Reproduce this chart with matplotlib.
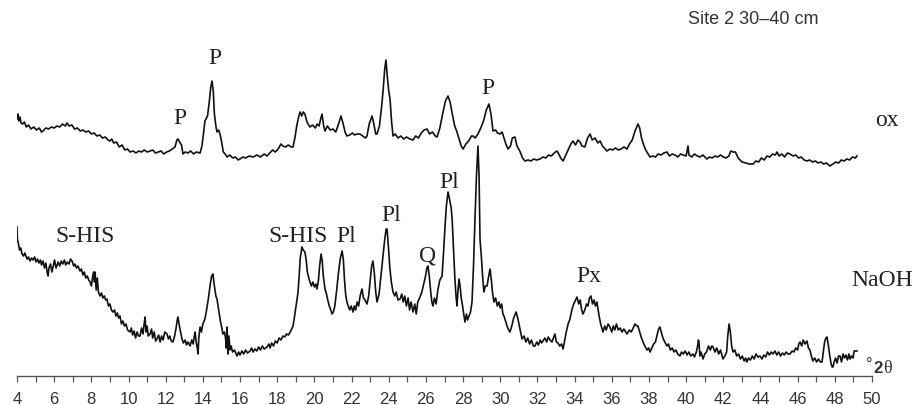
import matplotlib
matplotlib.use("Agg")
import matplotlib.pyplot as plt
from matplotlib.ticker import MultipleLocator

# XRD patterns, Site 2, 30-40 cm (intensity in arbitrary units, traces offset)
ox_2theta = [
    4.00, 4.05, 4.10, 4.16, 4.22, 4.30, 4.40, 4.50, 4.62, 4.75, 4.90, 5.05, 5.20, 5.32, 5.40,
    5.55, 5.70, 5.85, 6.00, 6.15, 6.30, 6.45, 6.60, 6.69, 6.80, 6.95, 7.10, 7.25, 7.40, 7.55,
    7.70, 7.85, 8.00, 8.15, 8.30, 8.45, 8.60, 8.75, 8.90, 9.00, 9.10, 9.20, 9.35, 9.50, 9.65,
    9.80, 9.95, 10.08, 10.25, 10.40, 10.55, 10.70, 10.85, 11.00, 11.16, 11.30, 11.45, 11.60,
    11.75, 11.90, 12.05, 12.20, 12.35, 12.50, 12.60, 12.66, 12.75, 12.85, 12.93, 13.05, 13.20,
    13.35, 13.50, 13.65, 13.85, 13.95, 14.05, 14.11, 14.25, 14.35, 14.42, 14.49, 14.56, 14.62,
    14.70, 14.76, 14.85, 14.92, 15.00, 15.10, 15.20, 15.30, 15.45, 15.60, 15.75, 15.90, 16.00,
    16.15, 16.30, 16.50, 16.70, 16.90, 17.10, 17.30, 17.45, 17.60, 17.75, 17.90, 18.05, 18.20,
    18.31, 18.45, 18.60, 18.75, 18.85, 18.95, 19.05, 19.15, 19.23, 19.32, 19.40, 19.49, 19.60,
    19.76, 19.90, 20.05, 20.15, 20.25, 20.35, 20.41, 20.50, 20.57, 20.70, 20.85, 21.00, 21.15,
    21.30, 21.43, 21.55, 21.65, 21.75, 21.90, 22.05, 22.15, 22.30, 22.45, 22.60, 22.75, 22.83,
    22.95, 23.10, 23.20, 23.30, 23.37, 23.50, 23.62, 23.69, 23.78, 23.85, 23.92, 24.00, 24.07,
    24.15, 24.23, 24.35, 24.50, 24.65, 24.80, 24.95, 25.14, 25.30, 25.45, 25.60, 25.75, 25.90,
    26.06, 26.20, 26.35, 26.50, 26.60, 26.75, 26.90, 27.05, 27.19, 27.30, 27.42, 27.55, 27.67,
    27.80, 27.90, 28.00, 28.15, 28.30, 28.45, 28.53, 28.65, 28.80, 28.95, 29.10, 29.25, 29.39,
    29.50, 29.61, 29.75, 29.85, 29.99, 30.10, 30.20, 30.30, 30.42, 30.55, 30.65, 30.79, 30.90,
    31.05, 31.20, 31.33, 31.50, 31.65, 31.80, 31.95, 32.14, 32.30, 32.45, 32.60, 32.75, 32.90,
    33.05, 33.15, 33.25, 33.38, 33.50, 33.65, 33.80, 33.91, 34.05, 34.18, 34.29, 34.40, 34.55,
    34.70, 34.83, 34.95, 35.10, 35.25, 35.37, 35.50, 35.60, 35.74, 35.90, 36.05, 36.20, 36.35,
    36.50, 36.65, 36.82, 36.95, 37.10, 37.25, 37.41, 37.50, 37.60, 37.70, 37.80, 37.89, 38.06,
    38.20, 38.35, 38.50, 38.65, 38.80, 38.97, 39.10, 39.25, 39.40, 39.55, 39.70, 39.85, 40.00,
    40.10, 40.15, 40.30, 40.45, 40.60, 40.75, 40.90, 41.12, 41.25, 41.40, 41.55, 41.70, 41.85,
    42.00, 42.15, 42.30, 42.40, 42.52, 42.65, 42.80, 43.01, 43.20, 43.40, 43.60, 43.75, 43.90,
    44.05, 44.20, 44.35, 44.50, 44.65, 44.80, 44.89, 45.00, 45.15, 45.30, 45.45, 45.59, 45.75,
    45.90, 46.05, 46.20, 46.35, 46.50, 46.65, 46.80, 46.95, 47.10, 47.25, 47.40, 47.55, 47.74,
    47.90, 48.05, 48.20, 48.35, 48.50, 48.65, 48.80, 48.95, 49.10, 49.19,
]
ox_counts = [
    257, 262, 255, 259, 253, 252, 254, 249, 251, 247, 249, 246, 248, 244, 245,
    248, 247, 249, 248, 250, 249, 252, 250, 253, 250, 251, 247, 248, 245, 246,
    244, 245, 242, 243, 240, 241, 238, 239, 236, 235, 237, 233, 234, 229, 231,
    226, 227, 224, 225, 223, 225, 224, 226, 224, 225, 226, 223, 224,
    225, 222, 224, 225, 227, 229, 236, 237, 234, 231, 222, 224, 223,
    225, 222, 224, 223, 230, 245, 255, 260, 275, 288, 295, 285, 262,
    250, 244, 246, 242, 235, 224, 222, 219, 221, 218, 219, 216, 217,
    219, 218, 220, 219, 221, 219, 222, 220, 223, 226, 224, 227, 232,
    230, 229, 231, 229, 229, 238, 250, 259, 264, 260, 264, 262, 254,
    249, 251, 248, 252, 250, 258, 262, 250, 245, 250, 246, 247, 244,
    252, 260, 252, 244, 240, 241, 243, 241, 242, 242, 240, 238, 240,
    252, 260, 252, 242, 242, 250, 270, 284, 306, 316, 300, 285, 277,
    255, 240, 242, 238, 240, 237, 239, 237, 236, 240, 238, 243, 246,
    247, 242, 244, 240, 239, 248, 262, 275, 280, 274, 262, 250, 244,
    236, 230, 227, 232, 235, 240, 240, 238, 242, 248, 255, 266, 272,
    262, 245, 246, 243, 242, 244, 238, 232, 227, 230, 238, 239, 230,
    225, 218, 215, 216, 215, 217, 216, 217, 219, 218, 221, 220, 223,
    225, 222, 218, 215, 220, 226, 232, 235, 231, 236, 234, 230, 229,
    238, 242, 236, 238, 233, 235, 230, 228, 225, 227, 226, 228, 226,
    227, 229, 227, 232, 236, 245, 252, 248, 238, 232, 227, 224, 219,
    220, 219, 222, 221, 223, 224, 220, 222, 221, 219, 222, 221, 220,
    230, 221, 219, 222, 220, 219, 221, 217, 219, 218, 220, 219, 221,
    219, 218, 220, 225, 224, 224, 218, 214, 213, 212, 212, 215, 214,
    218, 216, 220, 219, 222, 221, 224, 220, 222, 219, 223, 222, 220,
    221, 218, 219, 216, 215, 216, 214, 215, 213, 214, 212, 213, 210,
    212, 214, 213, 216, 215, 217, 216, 219, 218, 220,
]

naoh_2theta = [
    4.00, 4.02, 4.08, 4.14, 4.20, 4.27, 4.35, 4.42, 4.54, 4.62, 4.70, 4.78, 4.86, 4.95, 5.02,
    5.10, 5.18, 5.26, 5.32, 5.40, 5.48, 5.55, 5.62, 5.67, 5.72, 5.80, 5.88, 5.95, 6.02, 6.10,
    6.16, 6.21, 6.30, 6.38, 6.46, 6.55, 6.62, 6.70, 6.80, 6.88, 6.96, 7.05, 7.12, 7.20, 7.28,
    7.39, 7.46, 7.55, 7.62, 7.70, 7.78, 7.86, 7.93, 8.00, 8.06, 8.12, 8.17, 8.20, 8.26, 8.32,
    8.38, 8.47, 8.55, 8.62, 8.70, 8.77, 8.84, 8.92, 9.00, 9.08, 9.16, 9.25, 9.32, 9.40, 9.47,
    9.54, 9.62, 9.70, 9.78, 9.86, 9.95, 10.08, 10.15, 10.22, 10.30, 10.38, 10.46, 10.54, 10.62,
    10.70, 10.78, 10.84, 10.89, 10.94, 11.00, 11.06, 11.16, 11.24, 11.30, 11.38, 11.46, 11.53,
    11.62, 11.70, 11.78, 11.86, 11.95, 12.07, 12.15, 12.22, 12.30, 12.39, 12.48, 12.56, 12.62,
    12.66, 12.72, 12.80, 12.88, 12.95, 13.05, 13.12, 13.20, 13.31, 13.40, 13.48, 13.54, 13.58,
    13.64, 13.70, 13.74, 13.78, 13.85, 13.92, 14.00, 14.11, 14.20, 14.30, 14.40, 14.47, 14.54,
    14.62, 14.70, 14.76, 14.85, 14.95, 15.02, 15.08, 15.16, 15.22, 15.26, 15.30, 15.35, 15.40,
    15.46, 15.52, 15.60, 15.70, 15.84, 15.92, 16.00, 16.10, 16.20, 16.30, 16.40, 16.54, 16.62,
    16.70, 16.80, 16.90, 17.00, 17.10, 17.20, 17.30, 17.45, 17.55, 17.62, 17.70, 17.80, 17.90,
    18.00, 18.10, 18.20, 18.31, 18.40, 18.50, 18.60, 18.70, 18.78, 18.85, 18.92, 19.00, 19.06,
    19.12, 19.18, 19.24, 19.33, 19.40, 19.49, 19.56, 19.62, 19.70, 19.76, 19.84, 19.92, 20.00,
    20.08, 20.14, 20.22, 20.28, 20.36, 20.42, 20.48, 20.57, 20.65, 20.72, 20.80, 20.88, 20.95,
    21.02, 21.10, 21.20, 21.30, 21.40, 21.49, 21.56, 21.62, 21.68, 21.75, 21.82, 21.90, 21.98,
    22.08, 22.15, 22.22, 22.30, 22.38, 22.46, 22.56, 22.64, 22.72, 22.83, 22.92, 23.00, 23.08,
    23.15, 23.22, 23.30, 23.37, 23.48, 23.58, 23.68, 23.78, 23.86, 23.91, 23.98, 24.06, 24.14,
    24.23, 24.32, 24.40, 24.50, 24.61, 24.70, 24.78, 24.86, 24.95, 25.04, 25.12, 25.20, 25.31,
    25.40, 25.48, 25.56, 25.68, 25.78, 25.88, 25.98, 26.05, 26.11, 26.18, 26.26, 26.32, 26.38,
    26.46, 26.55, 26.64, 26.75, 26.87, 26.95, 27.03, 27.10, 27.19, 27.28, 27.36, 27.41, 27.48,
    27.56, 27.62, 27.67, 27.72, 27.78, 27.84, 27.90, 27.94, 28.02, 28.10, 28.18, 28.24, 28.32,
    28.40, 28.48, 28.56, 28.64, 28.72, 28.80, 28.86, 28.91, 28.98, 29.05, 29.12, 29.20, 29.29,
    29.36, 29.45, 29.52, 29.58, 29.66, 29.75, 29.84, 29.93, 30.00, 30.08, 30.14, 30.20, 30.30,
    30.40, 30.52, 30.62, 30.72, 30.85, 30.94, 31.05, 31.17, 31.28, 31.38, 31.48, 31.58, 31.68,
    31.78, 31.87, 31.96, 32.05, 32.15, 32.22, 32.30, 32.40, 32.50, 32.58, 32.68, 32.78, 32.86,
    32.94, 33.02, 33.10, 33.20, 33.30, 33.38, 33.46, 33.55, 33.65, 33.75, 33.85, 33.95, 34.05,
    34.13, 34.22, 34.30, 34.38, 34.45, 34.55, 34.64, 34.72, 34.80, 34.88, 34.96, 35.04, 35.12,
    35.20, 35.30, 35.40, 35.53, 35.62, 35.70, 35.80, 35.90, 36.00, 36.08, 36.16, 36.25, 36.35,
    36.45, 36.55, 36.65, 36.82, 36.95, 37.05, 37.15, 37.25, 37.35, 37.41, 37.50, 37.60, 37.68,
    37.78, 37.90, 37.98, 38.06, 38.15, 38.25, 38.35, 38.45, 38.52, 38.59, 38.66, 38.75, 38.85,
    38.97, 39.05, 39.15, 39.25, 39.35, 39.45, 39.55, 39.67, 39.75, 39.85, 39.95, 40.05, 40.15,
    40.25, 40.37, 40.45, 40.55, 40.62, 40.66, 40.69, 40.74, 40.80, 40.91, 41.00, 41.10, 41.20,
    41.30, 41.38, 41.45, 41.55, 41.65, 41.75, 41.85, 41.98, 42.08, 42.18, 42.24, 42.31, 42.38,
    42.45, 42.52, 42.62, 42.72, 42.82, 42.92, 43.02, 43.12, 43.20, 43.27, 43.36, 43.46, 43.56,
    43.66, 43.76, 43.86, 43.97, 44.08, 44.18, 44.28, 44.38, 44.48, 44.58, 44.67, 44.78, 44.88,
    44.98, 45.08, 45.18, 45.28, 45.38, 45.48, 45.59, 45.70, 45.80, 45.90, 46.00, 46.06, 46.13,
    46.22, 46.30, 46.40, 46.50, 46.58, 46.66, 46.74, 46.82, 46.92, 47.02, 47.12, 47.22, 47.31,
    47.38, 47.45, 47.52, 47.58, 47.64, 47.70, 47.74, 47.80, 47.86, 47.90, 47.96, 48.04, 48.12,
    48.20, 48.28, 48.36, 48.44, 48.52, 48.60, 48.68, 48.76, 48.82, 48.90, 48.98, 49.04, 49.12,
    49.19,
]
naoh_counts = [
    149, 137, 132, 126, 128, 122, 120, 123, 117, 119, 115, 118, 116, 119, 114,
    117, 113, 116, 111, 115, 108, 113, 104, 100, 108, 112, 104, 110, 116, 108,
    111, 114, 110, 115, 112, 116, 111, 114, 112, 117, 115, 110, 112, 108, 110,
    105, 107, 101, 104, 98, 100, 96, 94, 90, 98, 104, 94, 104, 86, 98,
    84, 80, 83, 78, 80, 76, 77, 70, 72, 66, 64, 66, 60, 63, 58,
    60, 52, 55, 50, 52, 46, 44, 48, 41, 45, 38, 44, 40, 40,
    48, 42, 52, 59, 44, 50, 40, 42, 47, 38, 44, 35, 37,
    41, 34, 40, 36, 44, 42, 37, 40, 35, 34, 40, 48, 56,
    59, 52, 44, 37, 33, 36, 31, 34, 30, 36, 32, 40, 44,
    34, 28, 22, 38, 49, 44, 52, 57, 66, 78, 92, 100, 102,
    90, 80, 77, 66, 54, 48, 42, 44, 38, 28, 49, 22, 40,
    26, 30, 24, 26, 20, 24, 21, 25, 22, 26, 23, 25, 28,
    24, 27, 25, 29, 26, 30, 27, 29, 32, 28, 33, 30, 35,
    33, 38, 36, 40, 39, 42, 41, 44, 47, 50, 58, 68, 76,
    84, 100, 118, 129, 126, 124, 116, 104, 98, 94, 90, 94, 89,
    92, 87, 96, 110, 122, 115, 100, 87, 82, 76, 70, 66, 62,
    64, 70, 86, 104, 118, 125, 116, 96, 82, 74, 70, 66, 70,
    64, 70, 66, 74, 70, 80, 87, 78, 76, 72, 80, 95, 110,
    115, 104, 84, 74, 82, 100, 118, 136, 147, 147, 130, 108, 94,
    84, 80, 84, 76, 77, 82, 74, 80, 70, 78, 66, 74, 64,
    72, 62, 74, 79, 84, 92, 100, 108, 110, 100, 84, 74, 70,
    78, 72, 86, 96, 100, 124, 150, 170, 184, 176, 168, 157, 130,
    97, 80, 70, 84, 97, 90, 78, 74, 64, 54, 62, 56, 60,
    64, 74, 110, 157, 200, 230, 200, 137, 120, 100, 84, 90, 90,
    98, 107, 96, 84, 74, 78, 70, 74, 68, 72, 62, 60, 54,
    48, 44, 50, 58, 64, 58, 48, 37, 40, 34, 38, 32, 36,
    30, 30, 34, 31, 36, 33, 35, 38, 34, 39, 36, 34, 38,
    42, 34, 33, 30, 32, 27, 35, 44, 52, 57, 66, 72, 76,
    79, 72, 76, 66, 62, 66, 72, 70, 78, 80, 72, 76, 70,
    74, 62, 52, 44, 50, 46, 52, 49, 44, 50, 46, 52, 46,
    48, 44, 47, 42, 46, 44, 48, 52, 50, 50, 44, 38, 34,
    30, 26, 28, 24, 28, 32, 34, 42, 47, 49, 44, 38, 34,
    30, 32, 26, 28, 24, 26, 22, 20, 24, 22, 25, 21, 24,
    20, 22, 19, 24, 30, 36, 34, 20, 24, 17, 22, 24, 30,
    26, 30, 29, 24, 28, 22, 26, 17, 20, 24, 40, 52, 44,
    30, 24, 26, 20, 22, 17, 20, 15, 18, 14, 18, 16, 20,
    17, 22, 19, 20, 17, 21, 19, 24, 21, 24, 22, 25, 21,
    24, 20, 23, 21, 24, 22, 22, 25, 24, 28, 26, 32, 34,
    30, 36, 32, 35, 28, 26, 20, 15, 18, 14, 17, 14, 14,
    24, 34, 38, 39, 32, 24, 19, 12, 9, 9, 14, 18, 13,
    20, 20, 14, 22, 18, 21, 16, 22, 17, 20, 18, 25, 25,
    25,
]

# peak labels: (text, 2theta, height)
ox_labels = [("P", 12.77, 259), ("P", 14.65, 319), ("P", 29.34, 289)]
naoh_labels = [
    ("S-HIS", 7.66, 140), ("S-HIS", 19.12, 140), ("Pl", 21.70, 140),
    ("Pl", 24.12, 161), ("Q", 26.11, 121), ("Pl", 27.24, 195), ("Px", 34.77, 100),
]

fig = plt.figure(figsize=(9.17, 4.06), dpi=100)
ax = fig.add_axes([17 / 917, 29 / 406, 855 / 917, 377 / 406])

ax.plot(ox_2theta, ox_counts, color="#111111", lw=1.2)
ax.plot(naoh_2theta, naoh_counts, color="#111111", lw=1.2)

serif = "Liberation Serif"
for txt, x, y in ox_labels + naoh_labels:
    ax.text(x, y, txt, family=serif, fontsize=17, ha="center", va="center", color="#222222")

ax.text(50.8, 257, "ox", family=serif, fontsize=17, ha="center", va="center", color="#222222")
ax.text(50.55, 96, "NaOH", family=serif, fontsize=17, ha="center", va="center", color="#222222")
ax.text(43.6, 357, "Site 2 30\u201340 cm", family="Liberation Sans", fontsize=13,
        ha="center", va="center", color="#333333")

# unit label at the right end of the axis
ax.text(49.86, 12, "\u00b0", family="Liberation Sans", fontsize=12, ha="center", va="center", color="#333333")
ax.text(50.3, 8, "2", family="Liberation Sans", fontsize=12, fontweight="bold", ha="center", va="center", color="#333333")
ax.text(50.83, 8, "\u03b8", family="Liberation Serif", fontsize=13, ha="center", va="center", color="#333333")

ax.set_xlim(4, 50)
ax.set_ylim(0, 377)
for side in ("top", "right", "left"):
    ax.spines[side].set_visible(False)
ax.spines["bottom"].set_color("#555555")
ax.spines["bottom"].set_linewidth(1.0)
ax.set_yticks([])
ax.xaxis.set_major_locator(MultipleLocator(2))
ax.xaxis.set_minor_locator(MultipleLocator(1))
ax.tick_params(axis="x", which="both", direction="out", length=4, width=0.9, color="#555555")
ax.tick_params(axis="x", which="major", pad=7, labelsize=12, labelcolor="#333333")
for lbl in ax.get_xticklabels():
    lbl.set_family("Liberation Sans")
ax.patch.set_alpha(0)

fig.savefig("out.png", dpi=100)
